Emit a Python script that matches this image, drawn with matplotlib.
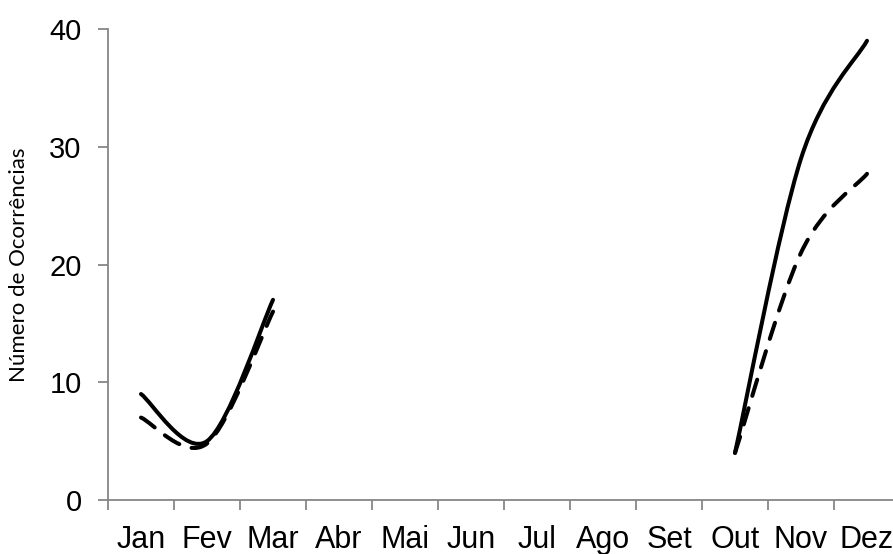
import numpy as np
import matplotlib
matplotlib.use("Agg")
import matplotlib.pyplot as plt
from matplotlib.path import Path
from matplotlib.patches import PathPatch

# dados
meses = ["Jan", "Fev", "Mar", "Abr", "Mai", "Jun", "Jul", "Ago", "Set", "Out", "Nov", "Dez"]
serie_a = [9, 5, 17, None, None, None, None, None, None, 4, 29, 39]
serie_b = [7, 4.8, 16, None, None, None, None, None, None, 4, 21, 27.7]

plt.rcParams['font.family'] = ['Liberation Sans', 'DejaVu Sans']


def curva_suave(ax, valores, **kw):
    # linha suavizada (tipo Excel) por segmentos sem falhas
    x = np.arange(len(valores)) + 0.5
    blocos, atual = [], []
    for xi, v in zip(x, valores):
        if v is None:
            if atual:
                blocos.append(atual)
            atual = []
        else:
            atual.append((xi, v))
    if atual:
        blocos.append(atual)
    for b in blocos:
        p = np.array(b, dtype=float)
        n = len(p)
        verts = [p[0]]
        codes = [Path.MOVETO]
        for i in range(n - 1):
            p0 = p[max(i - 1, 0)]
            p1 = p[i]
            p2 = p[i + 1]
            p3 = p[min(i + 2, n - 1)]
            c1 = p1 + (p2 - p0) / 6
            c2 = p2 - (p3 - p1) / 6
            verts += [c1, c2, p2]
            codes += [Path.CURVE4] * 3
        ax.add_patch(PathPatch(Path(verts, codes), fill=False, capstyle='round',
                               joinstyle='round', **kw))


fig = plt.figure(figsize=(8.93, 5.54), dpi=100)
ax = fig.add_axes([108 / 893, 54 / 554, 792 / 893, 471 / 554])

curva_suave(ax, serie_a, color='black', lw=2.9)
curva_suave(ax, serie_b, color='black', lw=2.9, linestyle=(0, (4.2, 3.2)))

ax.set_xlim(0, 12)
ax.set_ylim(0, 40)
ax.set_yticks([0, 10, 20, 30, 40])
ax.set_xticks(np.arange(13))
ax.set_xticklabels([])
ax.set_xticks(np.arange(12) + 0.5, minor=True)
ax.set_xticklabels(meses, minor=True)

cinza = '#868686'
for s in ['top', 'right']:
    ax.spines[s].set_visible(False)
for s in ['left', 'bottom']:
    ax.spines[s].set_color(cinza)
    ax.spines[s].set_linewidth(1.3)
ax.tick_params(axis='y', which='major', direction='out', length=7, width=1.3,
               color=cinza, labelsize=21, pad=12)
ax.tick_params(axis='x', which='major', direction='out', length=7, width=1.3, color=cinza)
ax.tick_params(axis='x', which='minor', length=0, labelsize=22, pad=18)

ax.set_ylabel("Número de Ocorrências", fontsize=16, family=['Lato', 'DejaVu Sans'])
ax.yaxis.set_label_coords(-0.1, 0.5)

fig.savefig("out.png", dpi=100)
